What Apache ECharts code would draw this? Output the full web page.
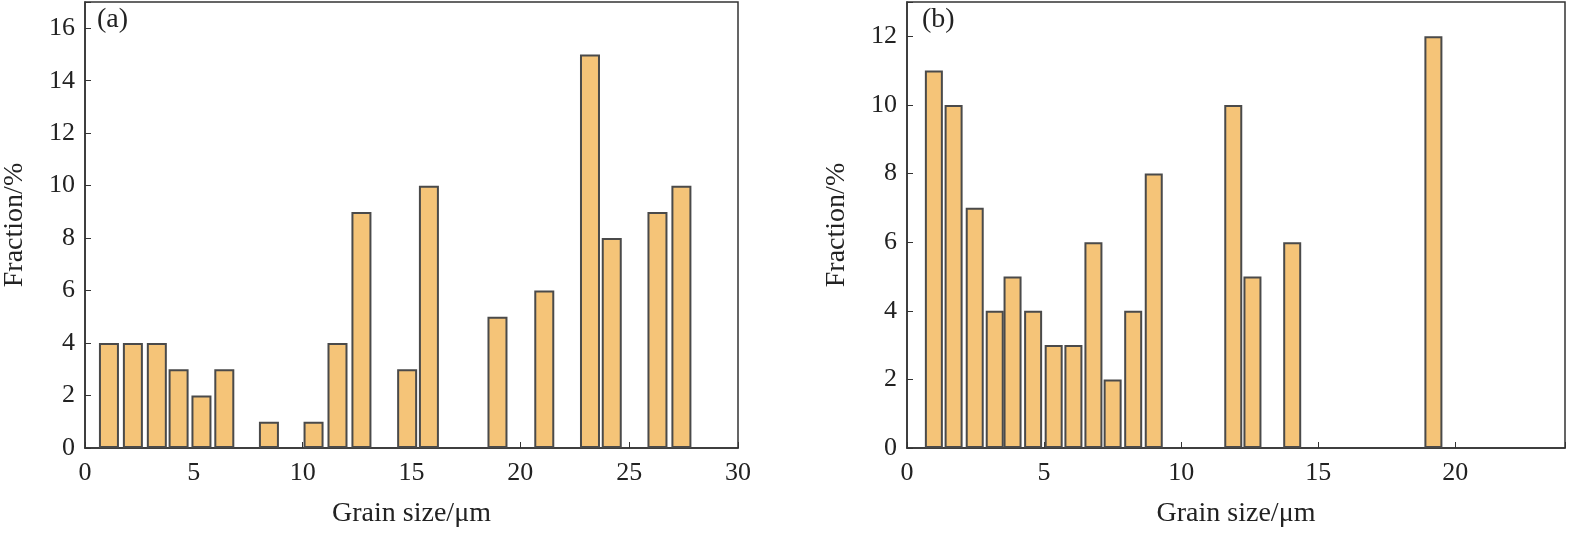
<!DOCTYPE html>
<html><head><meta charset="utf-8">
<script src="https://cdn.jsdelivr.net/npm/echarts@6/dist/echarts.min.js"></script>
<style>body{margin:0}#c{width:1595px;height:540px}</style></head>
<body><div id="c"></div>
<script>
// panel (a): grain size centres and fractions
var sizeA = [1.1, 2.2, 3.3, 4.3, 5.35, 6.4, 8.45, 10.5, 11.6, 12.7, 14.8, 15.8, 18.95, 21.1, 23.2, 24.2, 26.3, 27.4];
var fracA = [4, 4, 4, 3, 2, 3, 1, 1, 4, 9, 3, 10, 5, 6, 15, 8, 9, 10];
// panel (b)
var sizeB = [0.98, 1.7, 2.47, 3.2, 3.85, 4.6, 5.35, 6.07, 6.8, 7.5, 8.25, 9.0, 11.9, 12.6, 14.05, 19.2];
var fracB = [11, 10, 7, 4, 5, 4, 3, 3, 6, 2, 4, 8, 10, 5, 6, 12];

var font = 'Liberation Serif';
var fill = '#f5c478', edge = '#4a4a4a';

function pairs(xs, ys) { return xs.map(function (x, i) { return [x, ys[i]]; }); }

function xAx(idx, max) {
    return {
        type: 'value', gridIndex: idx, min: 0, max: max, interval: 5,
        name: 'Grain size/\u03bcm', nameLocation: 'middle', nameGap: 52,
        nameTextStyle: { fontFamily: font, fontSize: 28, color: '#222' },
        axisLine: { lineStyle: { color: '#333', width: 1.5 } },
        axisTick: { inside: true, length: 6, lineStyle: { color: '#333' } },
        axisLabel: { fontFamily: font, fontSize: 26, color: '#222', margin: 12,
            formatter: function (v) { return v === max && max === 24 ? '' : v; } },
        splitLine: { show: false }
    };
}
function yAx(idx, max, interval) {
    return {
        type: 'value', gridIndex: idx, min: 0, max: max, interval: interval,
        name: 'Fraction/%', nameLocation: 'middle', nameGap: 56,
        nameTextStyle: { fontFamily: font, fontSize: 28, color: '#222' },
        axisLine: { show: true, lineStyle: { color: '#333', width: 1.5 } },
        axisTick: { inside: true, length: 6, lineStyle: { color: '#333' } },
        axisLabel: { fontFamily: font, fontSize: 26, color: '#222', margin: 10,
            formatter: function (v) { return v === max ? '' : v; } },
        splitLine: { show: false }
    };
}

var chart = echarts.init(document.getElementById('c'));
chart.setOption({
    animation: false,
    backgroundColor: '#fff',
    grid: [
        { left: 78, right: 857, top: 2, bottom: 92, show: true, borderColor: '#333', borderWidth: 1.5 },
        { left: 907, right: 30, top: 2, bottom: 92, show: true, borderColor: '#333', borderWidth: 1.5 }
    ],
    xAxis: [xAx(0, 30), xAx(1, 24)],
    yAxis: [yAx(0, 17, 2), yAx(1, 13, 2)],
    graphic: [
        { type: 'text', left: 97, top: 6, style: { text: '(a)', font: '28px "Liberation Serif"', fill: '#222' } },
        { type: 'text', left: 922, top: 6, style: { text: '(b)', font: '28px "Liberation Serif"', fill: '#222' } }
    ],
    series: [
        { type: 'bar', xAxisIndex: 0, yAxisIndex: 0, data: pairs(sizeA, fracA), barWidth: 20,
          itemStyle: { color: fill, borderColor: edge, borderWidth: 2 } },
        { type: 'bar', xAxisIndex: 1, yAxisIndex: 1, data: pairs(sizeB, fracB), barWidth: 18,
          itemStyle: { color: fill, borderColor: edge, borderWidth: 2 } }
    ]
});
</script></body></html>
